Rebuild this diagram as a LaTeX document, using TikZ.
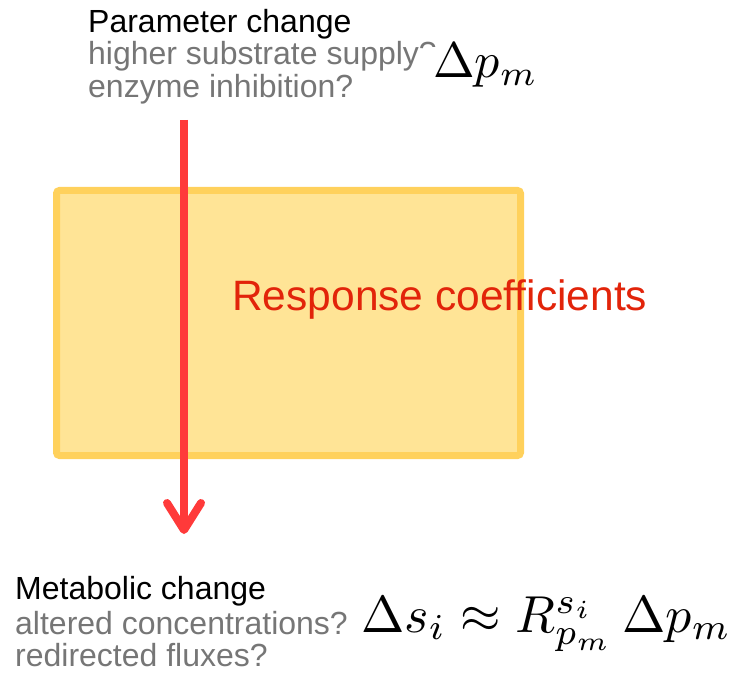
\documentclass[tikz,border=0pt]{standalone}
\usepackage{graphicx}
\usepackage{fontspec}
\setmainfont{Liberation Sans}
\usetikzlibrary{arrows.meta}
\definecolor{boxfill}{RGB}{255,228,150}
\definecolor{boxline}{RGB}{255,209,92}
\definecolor{arrowred}{RGB}{255,58,58}
\definecolor{labred}{RGB}{226,36,10}
\definecolor{subgray}{RGB}{118,118,118}
\tikzset{
  headtxt/.style={anchor=base west, inner sep=0pt, font=\fontsize{32}{37}\selectfont, text=black},
  subtxt/.style={headtxt, text=subgray},
  mathtxt/.style={anchor=base west, inner sep=0pt},
  respbox/.style={draw=boxline, fill=boxfill, line width=7pt, rounded corners=3pt},
  bigarrow/.style={draw=arrowred, line width=8pt, -{Straight Barb[round,length=27pt,width=34pt]}},
}
\begin{document}
\begin{tikzpicture}[x=1pt,y=1pt]
\useasboundingbox (0,0) rectangle (735,675);
% box
\draw[respbox] (56.5,219.5) rectangle (520.5,484.5);
\node[anchor=base west, inner sep=0pt, font=\fontsize{42.5}{48}\selectfont, text=labred] (resp) at (232,364) {Response coefficients};
% arrow
\coordinate (a0) at (184,555);
\coordinate (a1) at (184,141);
\draw[bigarrow] (a0) -- (a1);
% top labels
\node[headtxt] (pc) at (88,642) {Parameter change};
\node[subtxt] (hs) at (88,610) {higher substrate supply?};
\node[subtxt] (ei) at (88,577) {enzyme inhibition?};
\fill[white] (424,628) rectangle (545,578);
\node[mathtxt] (dp) at (433,597) {\scalebox{5.0}{$\Delta p_m$}};
% bottom labels
\node[headtxt] (mc) at (15,76) {Metabolic change};
\node[subtxt] (ac) at (15,41) {altered concentrations?};
\node[subtxt] (rf) at (15,9) {redirected fluxes?};
\node[mathtxt] (eq) at (361,43) {\scalebox{5.2}{$\Delta s_i \approx R^{s_i}_{p_m}\,\Delta p_m$}};
\end{tikzpicture}
\end{document}
